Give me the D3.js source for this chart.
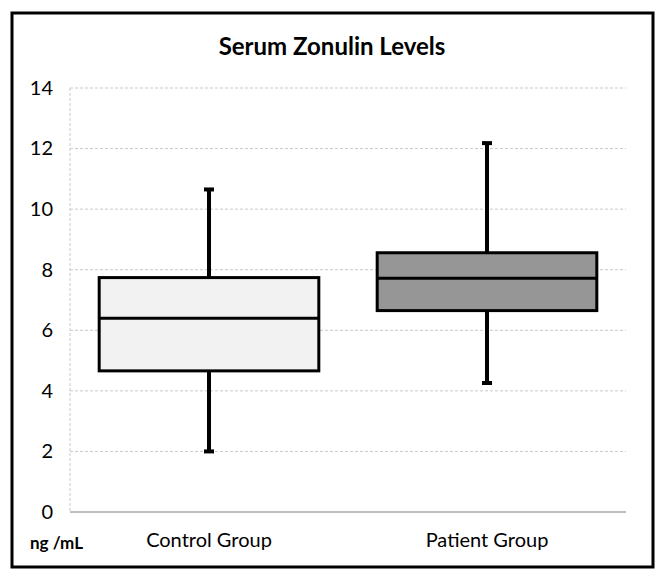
<!DOCTYPE html>
<html><head><meta charset="utf-8">
<script src="https://cdn.jsdelivr.net/npm/d3@7"></script>
<style>body{margin:0;background:#fff}svg{display:block}text{font-family:Lato,"Open Sans",sans-serif}</style>
</head><body>
<script>
const categories = ["Control Group", "Patient Group"];
const whiskerLow  = [2.0, 4.26];
const q1          = [4.66, 6.65];
const median      = [6.4, 7.72];
const q3          = [7.74, 8.56];
const whiskerHigh = [10.65, 12.18];
const yTicks = [0, 2, 4, 6, 8, 10, 12, 14];
const fills = ["#f2f2f2", "#969696"];
const title = "Serum Zonulin Levels";
const unitLabel = "ng /mL";

const W = 664, H = 582;
const svg = d3.select("body").append("svg").attr("width", W).attr("height", H);
const m = {left: 70, right: 626, top: 88, bottom: 512};

svg.append("rect").attr("x", 12).attr("y", 13).attr("width", 641).attr("height", 554)
  .attr("fill", "#fff").attr("stroke", "#000").attr("stroke-width", 3);

const y = d3.scaleLinear().domain([0, 14]).range([m.bottom, m.top]);
const x = d3.scaleBand().domain(categories).range([m.left, m.right]).paddingInner(0).paddingOuter(0);

svg.append("g").selectAll("line").data(yTicks.filter(d => d > 0)).join("line")
  .attr("x1", m.left).attr("x2", m.right).attr("y1", d => y(d)).attr("y2", d => y(d))
  .attr("stroke", "#c9c9c9").attr("stroke-width", 1).attr("stroke-dasharray", "3,2");
svg.append("line").attr("x1", m.left).attr("x2", m.left).attr("y1", m.top).attr("y2", m.bottom)
  .attr("stroke", "#c9c9c9").attr("stroke-width", 1).attr("stroke-dasharray", "3,2");
svg.append("line").attr("x1", m.left).attr("x2", m.right).attr("y1", y(0)).attr("y2", y(0))
  .attr("stroke", "#c0c0c0").attr("stroke-width", 2);

const yAxis = d3.axisLeft(y).tickValues(yTicks).tickSize(0).tickPadding(0).tickFormat(d3.format("d"));
const ga = svg.append("g").attr("transform", `translate(${m.left - 17},0)`).call(yAxis);
ga.select(".domain").remove();
ga.selectAll("text").attr("font-size", 20).attr("fill", "#000").attr("font-family", "Lato,'Open Sans',sans-serif");

const xAxis = d3.axisBottom(x).tickSize(0).tickPadding(0);
const gx = svg.append("g").attr("transform", `translate(0,${m.bottom + 21})`).call(xAxis);
gx.select(".domain").remove();
gx.selectAll("text").attr("font-size", 20).attr("fill", "#000").attr("font-family", "Lato,'Open Sans',sans-serif");

const bw = x.bandwidth() * 0.79;
const data = categories.map((c, i) => ({c, lo: whiskerLow[i], q1: q1[i], med: median[i], q3: q3[i], hi: whiskerHigh[i], fill: fills[i]}));
const g = svg.append("g").selectAll("g").data(data).join("g");
const cx = d => x(d.c) + x.bandwidth() / 2;
g.append("line").attr("x1", cx).attr("x2", cx).attr("y1", d => y(d.hi)).attr("y2", d => y(d.q3))
  .attr("stroke", "#000").attr("stroke-width", 4);
g.append("line").attr("x1", cx).attr("x2", cx).attr("y1", d => y(d.q1)).attr("y2", d => y(d.lo))
  .attr("stroke", "#000").attr("stroke-width", 4);
g.append("line").attr("x1", d => cx(d) - 5).attr("x2", d => cx(d) + 5).attr("y1", d => y(d.hi)).attr("y2", d => y(d.hi))
  .attr("stroke", "#000").attr("stroke-width", 4);
g.append("line").attr("x1", d => cx(d) - 5).attr("x2", d => cx(d) + 5).attr("y1", d => y(d.lo)).attr("y2", d => y(d.lo))
  .attr("stroke", "#000").attr("stroke-width", 4);
g.append("rect").attr("x", d => cx(d) - bw / 2).attr("width", bw)
  .attr("y", d => y(d.q3)).attr("height", d => y(d.q1) - y(d.q3))
  .attr("fill", d => d.fill).attr("stroke", "#000").attr("stroke-width", 3);
g.append("line").attr("x1", d => cx(d) - bw / 2).attr("x2", d => cx(d) + bw / 2)
  .attr("y1", d => y(d.med)).attr("y2", d => y(d.med)).attr("stroke", "#000").attr("stroke-width", 3);

svg.append("text").attr("x", 332).attr("y", 55).attr("text-anchor", "middle")
  .attr("font-size", 24).attr("font-weight", "bold").text(title);
svg.append("text").attr("x", 30).attr("y", 549).attr("font-size", 17).attr("font-weight", "bold").text(unitLabel);
</script>
</body></html>
